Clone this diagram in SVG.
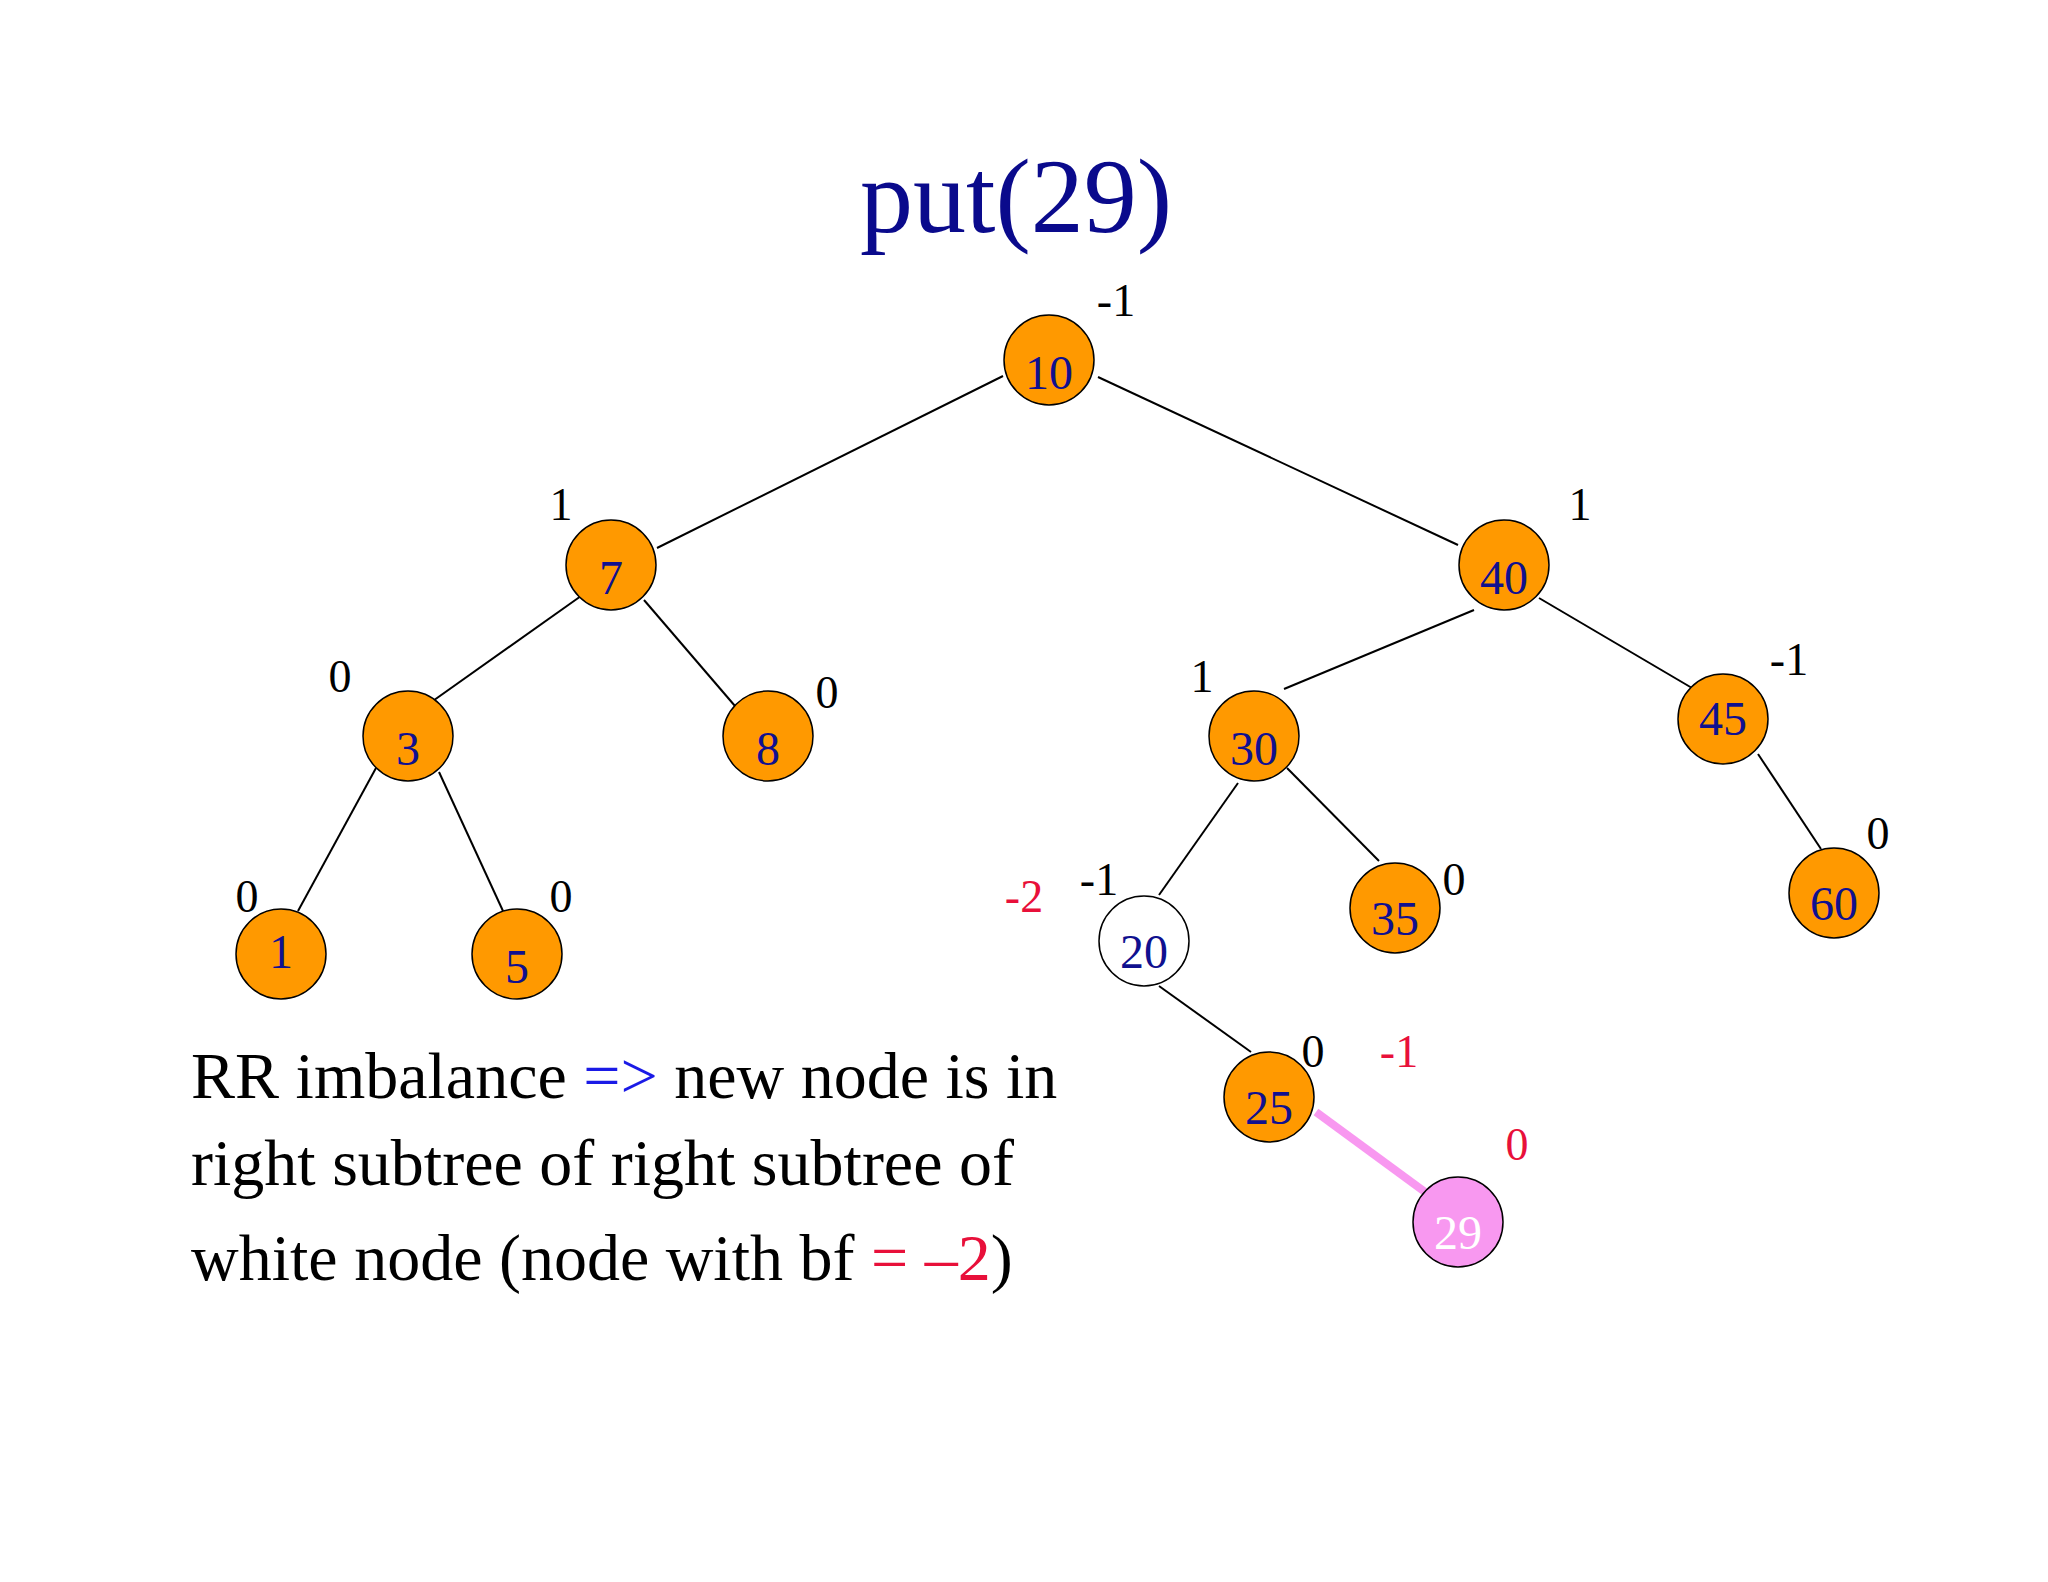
<svg xmlns="http://www.w3.org/2000/svg" width="2048" height="1582" viewBox="0 0 2048 1582">
<style>
.n{fill:#ff9900;stroke:#000;stroke-width:1.5}
.t{font-family:"Liberation Serif",serif;font-size:48px;fill:#10108f;text-anchor:middle}
.b{font-family:"Liberation Serif",serif;font-size:46px;fill:#000;text-anchor:middle}
.r{fill:#e8103a}
.e{stroke:#000;stroke-width:2;fill:none}
.p{font-family:"Liberation Serif",serif;font-size:66px;fill:#000}
</style>
<rect width="2048" height="1582" fill="#fff"/>
<text x="1016" y="232" style="font-family:'Liberation Serif',serif;font-size:106px;fill:#0a0a8c" text-anchor="middle">put(29)</text>
<g id="connectors">
<line class="e" x1="1003" y1="376" x2="657" y2="548"/>
<line class="e" x1="1098" y1="377" x2="1458" y2="545"/>
<line class="e" x1="581" y1="596" x2="430" y2="703"/>
<line class="e" x1="644" y1="600" x2="735" y2="706"/>
<line class="e" x1="1474" y1="610" x2="1284" y2="689"/>
<line class="e" x1="1539" y1="598" x2="1692" y2="688"/>
<line class="e" x1="376" y1="768" x2="298" y2="911"/>
<line class="e" x1="439" y1="772" x2="503" y2="911"/>
<line class="e" x1="1238" y1="783" x2="1159" y2="895"/>
<line class="e" x1="1287" y1="768" x2="1379" y2="861"/>
<line class="e" x1="1758" y1="754" x2="1821" y2="849"/>
<line class="e" x1="1159" y1="986" x2="1251" y2="1052"/>
<line x1="1316" y1="1112" x2="1425" y2="1192" stroke="#f898f0" stroke-width="8"/>
</g>
<g id="n10"><circle class="n" cx="1049" cy="360" r="45"/><text class="t" x="1049" y="389">10</text></g>
<g id="n7"><circle class="n" cx="611" cy="565" r="45"/><text class="t" x="611" y="594">7</text></g>
<g id="n40"><circle class="n" cx="1504" cy="565" r="45"/><text class="t" x="1504" y="594">40</text></g>
<g id="n3"><circle class="n" cx="408" cy="736" r="45"/><text class="t" x="408" y="765">3</text></g>
<g id="n8"><circle class="n" cx="768" cy="736" r="45"/><text class="t" x="768" y="765">8</text></g>
<g id="n30"><circle class="n" cx="1254" cy="736" r="45"/><text class="t" x="1254" y="765">30</text></g>
<g id="n45"><circle class="n" cx="1723" cy="719" r="45"/><text class="t" x="1723" y="735">45</text></g>
<g id="n1"><circle class="n" cx="281" cy="954" r="45"/><text class="t" x="281" y="968">1</text></g>
<g id="n5"><circle class="n" cx="517" cy="954" r="45"/><text class="t" x="517" y="983">5</text></g>
<g id="n20"><circle cx="1144" cy="941" r="45" fill="#fff" stroke="#000" stroke-width="1.5"/><text class="t" x="1144" y="968">20</text></g>
<g id="n35"><circle class="n" cx="1395" cy="908" r="45"/><text class="t" x="1395" y="935">35</text></g>
<g id="n60"><circle class="n" cx="1834" cy="893" r="45"/><text class="t" x="1834" y="920">60</text></g>
<g id="n25"><circle class="n" cx="1269" cy="1097" r="45"/><text class="t" x="1269" y="1124">25</text></g>
<g id="n29"><circle cx="1458" cy="1222" r="45" fill="#f898f0" stroke="#000" stroke-width="1.5"/><text class="t" x="1458" y="1249" style="fill:#fff">29</text></g>
<g id="labels">
<text class="b" x="1116" y="316">-1</text>
<text class="b" x="561" y="520">1</text>
<text class="b" x="1580" y="520">1</text>
<text class="b" x="340" y="692">0</text>
<text class="b" x="827" y="708">0</text>
<text class="b" x="1202" y="692">1</text>
<text class="b" x="1789" y="675">-1</text>
<text class="b" x="1878" y="849">0</text>
<text class="b" x="247" y="912">0</text>
<text class="b" x="561" y="912">0</text>
<text class="b r" x="1024" y="912">-2</text>
<text class="b" x="1099" y="895">-1</text>
<text class="b" x="1454" y="895">0</text>
<text class="b" x="1313" y="1067">0</text>
<text class="b r" x="1399" y="1067">-1</text>
<text class="b r" x="1517" y="1160">0</text>
</g>
<text class="p" x="191" y="1098">RR imbalance <tspan fill="#1a1ae6">=&gt;</tspan> new node is in</text>
<text class="p" x="191" y="1185">right subtree of right subtree of</text>
<text class="p" x="191" y="1280">white node (node with bf <tspan fill="#e8103a">= –2</tspan>)</text>
</svg>
